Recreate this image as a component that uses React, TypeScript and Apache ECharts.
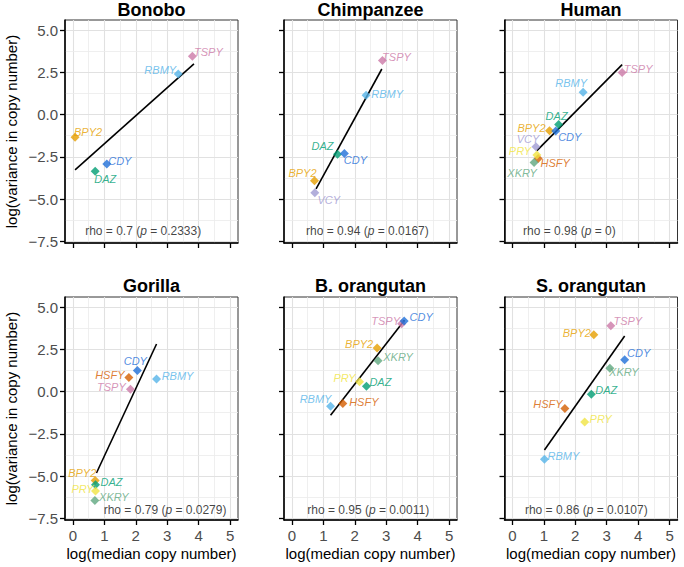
import React, { useEffect, useRef } from 'react';
import * as echarts from 'echarts';

// ---------- data ----------
const species = ['Bonobo', 'Chimpanzee', 'Human', 'Gorilla', 'B. orangutan', 'S. orangutan'];

const bonoboGenes = ['TSPY', 'RBMY', 'BPY2', 'CDY', 'DAZ'];
const bonoboX = [3.8, 3.35, 0.07, 1.08, 0.71];
const bonoboY = [3.45, 2.4, -1.34, -2.92, -3.35];

const chimpGenes = ['TSPY', 'RBMY', 'DAZ', 'CDY', 'BPY2', 'VCY'];
const chimpX = [2.88, 2.36, 1.45, 1.67, 0.72, 0.73];
const chimpY = [3.2, 1.15, -2.35, -2.3, -3.92, -4.62];

const humanGenes = ['TSPY', 'RBMY', 'DAZ', 'BPY2', 'CDY', 'VCY', 'HSFY', 'PRY', 'XKRY'];
const humanX = [3.49, 2.25, 1.47, 1.18, 1.38, 0.75, 0.82, 0.78, 0.69];
const humanY = [2.49, 1.32, -0.59, -0.95, -0.97, -1.91, -2.6, -2.39, -2.84];

const gorillaGenes = ['CDY', 'HSFY', 'RBMY', 'TSPY', 'BPY2', 'DAZ', 'PRY', 'XKRY'];
const gorillaX = [2.05, 1.78, 2.66, 1.83, 0.71, 0.72, 0.72, 0.7];
const gorillaY = [1.25, 0.83, 0.74, 0.14, -5.26, -5.51, -5.89, -6.45];

const bOrangGenes = ['TSPY', 'CDY', 'BPY2', 'XKRY', 'PRY', 'DAZ', 'HSFY', 'RBMY'];
const bOrangX = [3.49, 3.57, 2.71, 2.74, 2.15, 2.37, 1.62, 1.23];
const bOrangY = [4.02, 4.18, 2.58, 1.83, 0.59, 0.31, -0.71, -0.87];

const sOrangGenes = ['TSPY', 'BPY2', 'CDY', 'XKRY', 'DAZ', 'HSFY', 'PRY', 'RBMY'];
const sOrangX = [3.13, 2.59, 3.57, 3.1, 2.51, 1.67, 2.3, 1.02];
const sOrangY = [3.9, 3.37, 1.89, 1.38, -0.16, -1.0, -1.8, -4.0];

// fitted line end points
const fitX = [[0.07, 3.85], [0.77, 2.86], [0.78, 3.49], [0.75, 2.66], [1.23, 3.58], [1.02, 3.57]];
const fitY = [[-3.27, 3.0], [-4.4, 2.7], [-2.13, 2.96], [-4.82, 2.82], [-1.4, 4.22], [-3.46, 3.29]];

const rhoValues = ['0.7', '0.94', '0.98', '0.79', '0.95', '0.86'];
const pValues = ['0.2333', '0.0167', '0', '0.0279', '0.0011', '0.0107'];

const xTicks = [0, 1, 2, 3, 4, 5];
const yTicks = [-7.5, -5, -2.5, 0, 2.5, 5];
const xGrid = [0, 0.5, 1, 1.5, 2, 2.5, 3, 3.5, 4, 4.5, 5];
const yGrid = [-7.5, -6.25, -5, -3.75, -2.5, -1.25, 0, 1.25, 2.5, 3.75, 5];

// ---------- styles / layout ----------
const geneColors: Record<string, string> = {
  BPY2: '#E69F00',
  CDY: '#1F6FD8',
  DAZ: '#009E73',
  RBMY: '#56B4E9',
  TSPY: '#CC79A7',
  PRY: '#F0E442',
  HSFY: '#D55E00',
  VCY: '#9F9AD2',
  XKRY: '#5FA880',
};

// label centre offsets (px) relative to each point
const labelOffsets: Record<string, number[]>[] = [
  { TSPY: [16, -4], RBMY: [-18, -4], BPY2: [13, -5], CDY: [13, -3], DAZ: [10, 8] },
  { TSPY: [14, -4], RBMY: [21, -1], DAZ: [-15, -8], CDY: [11, 7], BPY2: [-12, -8], VCY: [14, 7] },
  { TSPY: [16, -4], RBMY: [-12, -9], DAZ: [-2, -9], BPY2: [-18, -3], CDY: [14, 6], VCY: [-8, -8], PRY: [-17, -4], HSFY: [17, 4], XKRY: [-12, 10] },
  { CDY: [-2, -9], HSFY: [-19, -3], RBMY: [21, -3], TSPY: [-19, -2], BPY2: [-13, -7], DAZ: [16, -3], PRY: [-13, -2], XKRY: [19, -4] },
  { CDY: [17, -4], TSPY: [-16, -3], BPY2: [-18, -4], XKRY: [20, -4], PRY: [-15, -4], DAZ: [14, -4], HSFY: [21, -2], RBMY: [-15, -7] },
  { TSPY: [17, -5], BPY2: [-17, -2], CDY: [14, -7], XKRY: [14, 4], DAZ: [15, -4], HSFY: [-17, -5], PRY: [16, -3], RBMY: [19, -3] },
];
const rhoLabelX = [0.39, 0.45, 0.34, 0.98, 0.49, 0.4];
const rhoLabelY = [-6.88, -7.02];

const panelLefts = [65, 284, 504.5];
const panelTops = [20, 297];
const panelW = 173;
const panelH = 223;
const FONT = '"Liberation Sans", Arial, Helvetica, sans-serif';

const panelGenes = [bonoboGenes, chimpGenes, humanGenes, gorillaGenes, bOrangGenes, sOrangGenes];
const panelX = [bonoboX, chimpX, humanX, gorillaX, bOrangX, sOrangX];
const panelY = [bonoboY, chimpY, humanY, gorillaY, bOrangY, sOrangY];

const minus = (s: string) => s.replace('-', '\u2212');

export default function App() {
  const ref = useRef<HTMLDivElement>(null);
  useEffect(() => {
    if (!ref.current) return;
    const chart = echarts.init(ref.current, null, { renderer: 'svg' });

    const grid: any[] = [];
    const xAxis: any[] = [];
    const yAxis: any[] = [];
    const series: any[] = [];
    const graphic: any[] = [];

    species.forEach((sp, i) => {
      const col = i % 3;
      const row = Math.floor(i / 3);
      const left = panelLefts[col];
      const top = panelTops[row];
      grid.push({
        left, top, width: panelW, height: panelH,
        show: true, backgroundColor: '#fff', borderColor: '#333', borderWidth: 1,
      });
      xAxis.push({
        gridIndex: i, type: 'value', min: -0.25, max: 5.25, z: 2,
        axisLine: { show: true, onZero: false, lineStyle: { color: '#000', width: 1.5 } },
        axisTick: { show: true, length: 5, customValues: xTicks, lineStyle: { color: '#000', width: 1.3 } },
        axisLabel: {
          show: row === 1, customValues: xTicks, color: '#4d4d4d', fontSize: 15,
          fontFamily: FONT, margin: 8, formatter: (v: number) => String(v),
        },
        splitLine: { show: false },
        name: row === 1 ? 'log(median copy number)' : '',
        nameLocation: 'middle', nameGap: 26,
        nameTextStyle: { fontSize: 15, color: '#000', fontFamily: FONT, verticalAlign: 'top' },
      });
      yAxis.push({
        gridIndex: i, type: 'value', min: -7.6, max: 5.6, z: 2,
        axisLine: { show: true, onZero: false, lineStyle: { color: '#000', width: 1.5 } },
        axisTick: { show: true, length: 5, customValues: yTicks, lineStyle: { color: '#000', width: 1.3 } },
        axisLabel: {
          show: col === 0, customValues: yTicks, color: '#4d4d4d', fontSize: 15,
          fontFamily: FONT, margin: 7, formatter: (v: number) => minus(v.toFixed(1)),
        },
        splitLine: { show: false },
        name: col === 0 ? 'log(variance in copy number)' : '',
        nameLocation: 'middle', nameGap: 46,
        nameTextStyle: { fontSize: 15, color: '#000', fontFamily: FONT },
      });

      // background grid lines
      series.push({
        type: 'scatter', xAxisIndex: i, yAxisIndex: i, data: [], silent: true, z: 1,
        markLine: {
          silent: true, z: 1, symbol: ['none', 'none'], label: { show: false }, animation: false,
          data: [
            ...xGrid.map((v, k) => ({ xAxis: v, lineStyle: { color: k % 2 === 0 ? '#e1e1e1' : '#ebebeb', width: k % 2 === 0 ? 1.1 : 0.8, type: 'solid' } })),
            ...yGrid.map((v, k) => ({ yAxis: v, lineStyle: { color: k % 2 === 0 ? '#e1e1e1' : '#ebebeb', width: k % 2 === 0 ? 1.1 : 0.8, type: 'solid' } })),
          ],
        },
      });

      // fitted line
      series.push({
        type: 'line', xAxisIndex: i, yAxisIndex: i, silent: true, z: 6,
        data: fitX[i].map((x, k) => [x, fitY[i][k]]),
        symbol: 'none', lineStyle: { color: '#000', width: 1.6, type: 'solid' },
      });

      // points with labels
      const genes = panelGenes[i];
      series.push({
        type: 'scatter', xAxisIndex: i, yAxisIndex: i, z: 7,
        symbol: 'diamond', symbolSize: 9,
        data: genes.map((g, k) => ({
          name: g,
          value: [panelX[i][k], panelY[i][k]],
          itemStyle: { color: geneColors[g] },
          label: {
            show: true, formatter: g, position: 'inside',
            offset: labelOffsets[i][g] || [14, -3],
            color: geneColors[g], fontStyle: 'italic', fontSize: 11, fontFamily: FONT,
            align: 'center', verticalAlign: 'middle',
          },
        })),
      });

      // rho annotation
      series.push({
        type: 'scatter', xAxisIndex: i, yAxisIndex: i, z: 8, silent: true,
        symbolSize: 0,
        data: [[rhoLabelX[i], rhoLabelY[row]]],
        label: {
          show: true, position: 'right', distance: 0,
          formatter: `rho = ${rhoValues[i]} ({i|p} = ${pValues[i]})`,
          color: '#111', fontSize: 12, fontFamily: FONT,
          rich: { i: { fontStyle: 'italic', fontSize: 12, color: '#111', fontFamily: FONT } },
        },
      });

      graphic.push({
        type: 'text',
        x: left + panelW / 2,
        y: row === 0 ? 10 : 286,
        style: {
          text: sp, align: 'center', verticalAlign: 'middle',
          font: `bold 18px ${FONT}`, fill: '#000',
        },
      });
    });

    chart.setOption({
      animation: false,
      backgroundColor: '#fff',
      grid, xAxis, yAxis, series, graphic,
    });
    return () => chart.dispose();
  }, []);
  return <div ref={ref} style={{ position: 'fixed', left: 0, top: 0, width: 684, height: 567 }} />;
}
